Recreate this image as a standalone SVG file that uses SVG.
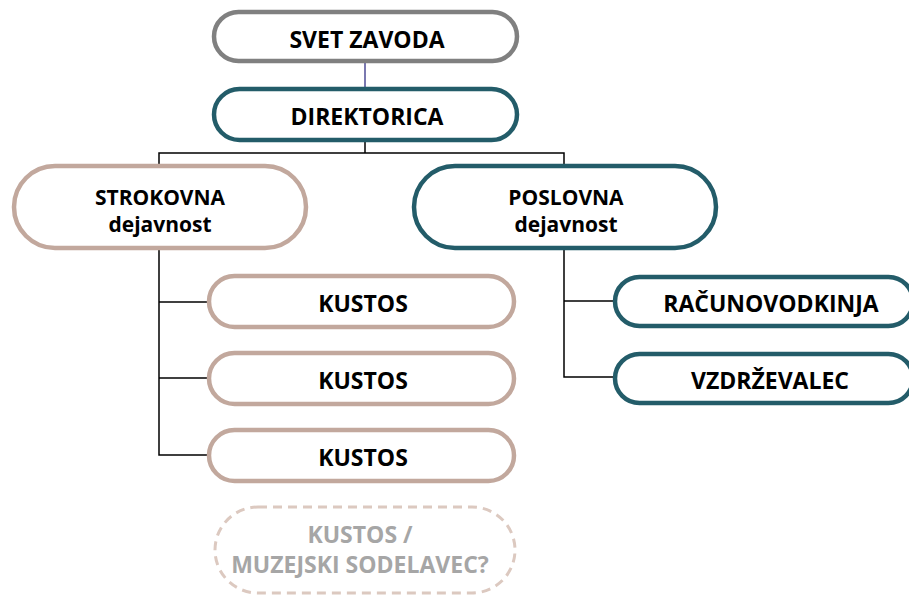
<svg xmlns="http://www.w3.org/2000/svg" width="909" height="596" viewBox="0 0 909 596">
<style>
.box{fill:#fff;stroke-width:4.5}
.gray{stroke:#808080}
.teal{stroke:#235c69}
.rose{stroke:#c2a89d}
.dash{stroke:#dcc9c0;stroke-dasharray:9 6;stroke-width:3}
.t{font-family:"Open Sans","Noto Sans","Liberation Sans",sans-serif;font-weight:bold;font-size:23px;fill:#000;text-anchor:middle}
.t2{font-size:21px}
.tg{fill:#a6a6a6}
.con{fill:none;stroke:#000;stroke-width:1.5}
</style>
<rect width="909" height="596" fill="#fff"/>
<g id="connectors">
<line x1="365" y1="63" x2="365" y2="88" stroke="#7a78b0" stroke-width="2"/>
<polyline class="con" points="365,142 365,153"/>
<polyline class="con" points="159,166 159,153 564,153 564,166"/>
<polyline class="con" points="159,250 159,455 209,455"/>
<line class="con" x1="159" y1="302" x2="209" y2="302"/>
<line class="con" x1="159" y1="378" x2="209" y2="378"/>
<polyline class="con" points="564,250 564,377 615,377"/>
<line class="con" x1="564" y1="301" x2="615" y2="301"/>
</g>
<g id="svet-zavoda">
<rect class="box gray" x="214" y="12" width="303" height="49" rx="24.5"/>
<text class="t" x="367" y="48">SVET ZAVODA</text>
</g>
<g id="direktorica">
<rect class="box teal" x="214" y="89" width="303" height="51" rx="25.5"/>
<text class="t" x="367" y="125">DIREKTORICA</text>
</g>
<g id="strokovna">
<rect class="box rose" x="14" y="166" width="292" height="82" rx="41"/>
<text class="t t2" x="160" y="205">STROKOVNA</text>
<text class="t t2" x="160" y="232">dejavnost</text>
</g>
<g id="poslovna">
<rect class="box teal" x="414" y="166" width="302" height="82" rx="41"/>
<text class="t t2" x="566" y="205">POSLOVNA</text>
<text class="t t2" x="566" y="232">dejavnost</text>
</g>
<g id="kustos1">
<rect class="box rose" x="209" y="276" width="305" height="51" rx="25.5"/>
<text class="t" x="363" y="312">KUSTOS</text>
</g>
<g id="kustos2">
<rect class="box rose" x="209" y="353" width="305" height="51" rx="25.5"/>
<text class="t" x="363" y="389">KUSTOS</text>
</g>
<g id="kustos3">
<rect class="box rose" x="209" y="430" width="305" height="51" rx="25.5"/>
<text class="t" x="363" y="466">KUSTOS</text>
</g>
<g id="racunovodkinja">
<rect class="box teal" x="615" y="277" width="298" height="49" rx="24.5"/>
<text class="t" x="771" y="312">RAČUNOVODKINJA</text>
</g>
<g id="vzdrzevalec">
<rect class="box teal" x="615" y="354" width="298" height="49" rx="24.5"/>
<text class="t" x="770" y="389">VZDRŽEVALEC</text>
</g>
<g id="kustos-muzejski">
<rect class="box dash" x="215" y="507" width="300" height="86" rx="43"/>
<text class="t tg" x="360" y="543">KUSTOS /</text>
<text class="t tg" x="360" y="573">MUZEJSKI SODELAVEC?</text>
</g>
</svg>
